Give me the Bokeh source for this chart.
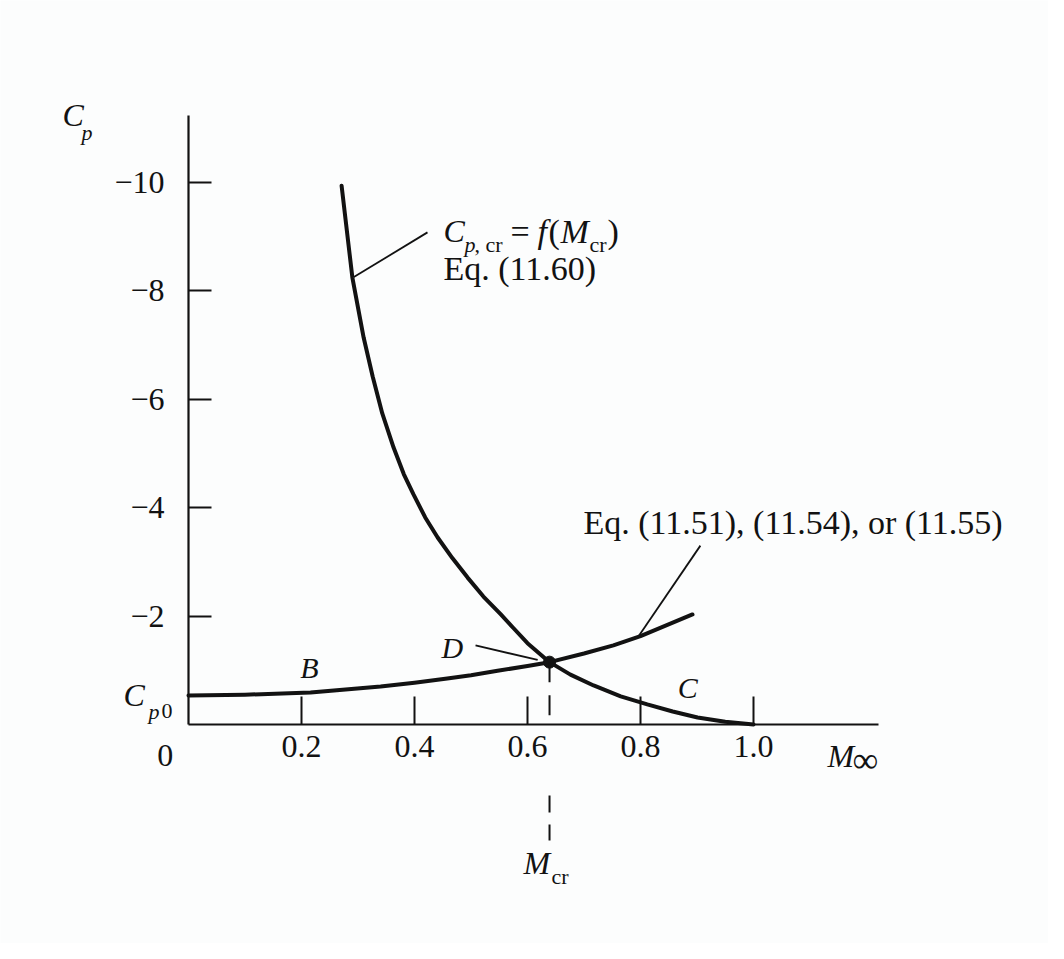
from bokeh.plotting import figure
from bokeh.models import Range1d, LinearAxis, FixedTicker
from bokeh.core.properties import value
from bokeh.embed import file_html
from bokeh.resources import INLINE

# ---- data ----
# critical pressure coefficient curve  Cp,cr = f(Mcr)
m_crit = [0.271, 0.290, 0.310, 0.326, 0.343, 0.363, 0.381, 0.398, 0.419, 0.441, 0.467,
          0.494, 0.522, 0.552, 0.575, 0.600, 0.639, 0.676, 0.717, 0.765, 0.812, 0.857,
          0.901, 0.950, 1.000]
cp_crit = [-9.94, -8.25, -7.14, -6.42, -5.74, -5.11, -4.62, -4.25, -3.82, -3.45, -3.07,
           -2.71, -2.36, -2.04, -1.78, -1.50, -1.15, -0.92, -0.72, -0.52, -0.37, -0.24,
           -0.13, -0.05, 0.0]
# compressibility-corrected Cp curve (Eq. 11.51 / 11.54 / 11.55)
m_corr = [0.0, 0.100, 0.216, 0.340, 0.400, 0.458, 0.500, 0.547, 0.600, 0.639, 0.700,
          0.752, 0.800, 0.892]
cp_corr = [-0.535, -0.55, -0.59, -0.70, -0.77, -0.85, -0.91, -0.99, -1.08, -1.15, -1.31,
           -1.46, -1.63, -2.03]
# intersection D
m_cr = 0.639
cp_d = -1.15
x_ticks = [0.2, 0.4, 0.6, 0.8, 1.0]
x_tick_labels = ["0.2", "0.4", "0.6", "0.8", "1.0"]
y_ticks = [-10, -8, -6, -4, -2]
y_tick_labels = ["\u221210", "\u22128", "\u22126", "\u22124", "\u22122"]

FONT = value("Liberation Serif")
INK = "#121212"

p = figure(width=1048, height=943, output_backend="svg", toolbar_location=None,
           x_range=Range1d(-0.3327, 1.5221), y_range=Range1d(4.041, -13.358),
           x_axis_location=None, y_axis_location=None, min_border=0,
           background_fill_color="#fcfdfd", border_fill_color="#fcfdfd")
p.outline_line_color = None
p.grid.visible = False

xax = LinearAxis(fixed_location=0, bounds=(0, 1.221),
                 ticker=FixedTicker(ticks=x_ticks),
                 major_label_overrides={t: s for t, s in zip(x_ticks, x_tick_labels)})
xax.axis_line_width = 2.2
xax.axis_line_color = INK
xax.major_tick_in = 28
xax.major_tick_out = 0
xax.major_tick_line_width = 2
xax.major_tick_line_color = INK
xax.minor_tick_line_color = None
xax.major_label_text_font = "Liberation Serif"
xax.major_label_text_font_size = "32px"
xax.major_label_text_color = INK
xax.major_label_standoff = 12
p.add_layout(xax, "below")

yax = LinearAxis(fixed_location=0, bounds=(-11.24, 0),
                 ticker=FixedTicker(ticks=y_ticks),
                 major_label_overrides={t: s for t, s in zip(y_ticks, y_tick_labels)})
yax.axis_line_width = 2.2
yax.axis_line_color = INK
yax.major_tick_in = 23
yax.major_tick_out = 0
yax.major_tick_line_width = 2
yax.major_tick_line_color = INK
yax.minor_tick_line_color = None
yax.major_label_text_font = "Liberation Serif"
yax.major_label_text_font_size = "32px"
yax.major_label_text_color = INK
yax.major_label_standoff = 24
p.add_layout(yax, "left")

# curves
p.line(m_crit, cp_crit, line_width=4, line_color=INK, line_join="round", line_cap="round")
p.line(m_corr, cp_corr, line_width=4, line_color=INK, line_join="round", line_cap="round")
p.scatter([m_cr], [cp_d], size=12, color=INK)

# M_cr dashed marker
p.line([m_cr, m_cr], [cp_d, 0], line_width=2, line_color=INK, line_dash="20 13")
p.line([m_cr, m_cr], [1.31, 2.14], line_width=2, line_color=INK, line_dash="17 12")

# leader lines
p.line([0.292, 0.423], [-8.25, -9.08], line_width=1.8, line_color=INK)
p.line([0.796, 0.906], [-1.62, -3.30], line_width=1.8, line_color=INK)
p.line([0.508, 0.618], [-1.46, -1.19], line_width=1.8, line_color=INK)

def txt(x, y, s, size="32px", style="normal", align="left", dx=0, dy=0):
    p.text([x], [y], text=[s], text_font=FONT, text_font_size=size, text_font_style=style,
           text_color=INK, text_baseline="middle", text_align=align, x_offset=dx, y_offset=dy)

# Cp,cr = f(Mcr)  Eq. (11.60)
X0, Y0 = 0.4513, -9.10
txt(X0, Y0, "C", style="italic")
txt(X0, Y0, "p", size="22px", style="italic", dx=21, dy=13)
txt(X0, Y0, ", cr", size="22px", dx=31, dy=13)
txt(X0, Y0, "=", size="34px", dx=67)
txt(X0, Y0, "f", size="34px", style="italic", dx=94)
txt(X0, Y0, "(", size="34px", dx=105)
txt(X0, Y0, "M", size="34px", style="italic", dx=117)
txt(X0, Y0, "cr", size="22px", dx=146, dy=13)
txt(X0, Y0, ")", size="34px", dx=164)
txt(X0, -8.41, "Eq. (11.60)", size="34px")

txt(0.699, -3.73, "Eq. (11.51), (11.54), or (11.55)", size="34px")

# point labels
txt(0.198, -1.05, "B", size="30px", style="italic")
txt(0.448, -1.42, "D", size="30px", style="italic")
txt(0.866, -0.68, "C", size="30px", style="italic")

# axis labels
txt(-0.223, -11.24, "C", style="italic")
txt(-0.223, -11.24, "p", size="22px", style="italic", dx=19, dy=17)
txt(-0.115, -0.535, "C", style="italic")
txt(-0.115, -0.535, "p", size="22px", style="italic", dx=25, dy=16)
txt(-0.115, -0.535, "0", size="22px", dx=38, dy=16)
txt(-0.041, 0.57, "0", align="center")
txt(1.131, 0.59, "M", style="italic")
txt(1.131, 0.59, "\u221e", size="36px", dx=25, dy=4)
txt(0.593, 2.55, "M", style="italic")
txt(0.593, 2.55, "cr", size="22px", dx=28, dy=14)

open("out.html", "w").write(file_html(p, INLINE))
